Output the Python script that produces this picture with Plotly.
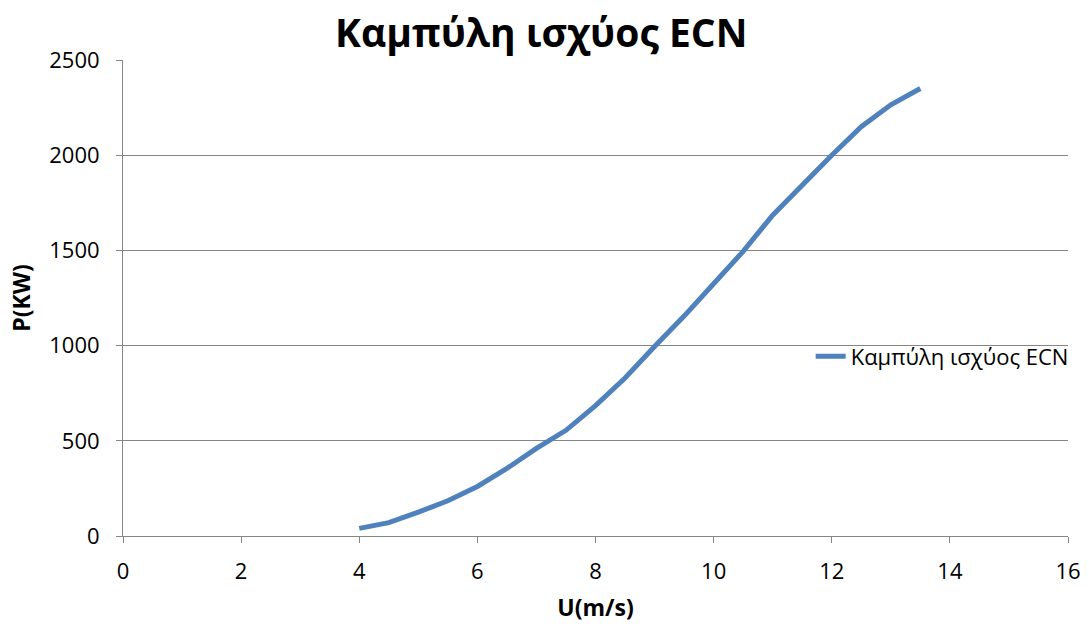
import plotly.graph_objects as go

U = [4, 4.5, 5, 5.5, 6, 6.5, 7, 7.5, 8, 8.5, 9, 9.5, 10, 10.5, 11, 11.5, 12, 12.5, 13, 13.5]
P = [40, 70, 125, 185, 260, 355, 460, 555, 685, 830, 995, 1155, 1325, 1495, 1685, 1845, 2000, 2150, 2265, 2350]
series_name = "Καμπύλη ισχύος ECN"
title_text = "Καμπύλη ισχύος ECN"
x_title = "U(m/s)"
y_title = "P(KW)"

font_family = "Open Sans, Carlito, Liberation Sans, sans-serif"

fig = go.Figure()
fig.add_trace(go.Scatter(x=U, y=P, mode="lines", name=series_name,
                         line=dict(color="#4F81BD", width=5, shape="linear")))

fig.update_layout(
    width=1089, height=626,
    margin=dict(l=123, r=21, t=60, b=90, autoexpand=False),
    paper_bgcolor="white", plot_bgcolor="white",
    font=dict(family=font_family, size=22, color="black"),
    title=dict(text="<b>" + title_text + "</b>", x=0.497, xanchor="center",
               y=0.947, yanchor="middle", font=dict(size=39, color="black")),
    showlegend=True,
    legend=dict(x=1.006, y=0.377, xanchor="right", yanchor="middle",
                bgcolor="rgba(0,0,0,0)", font=dict(size=22, color="black")),
    xaxis=dict(range=[0, 16], dtick=2, tick0=0, showgrid=False, zeroline=False,
               automargin=False,
               showline=True, linecolor="#868686", linewidth=1,
               ticks="outside", ticklen=6, tickcolor="#868686", ticklabelstandoff=10,
               title=dict(text="<b>" + x_title + "</b>", font=dict(size=23), standoff=15)),
    yaxis=dict(range=[0, 2500], dtick=500, tick0=0, showgrid=True, gridcolor="#868686",
               automargin=False,
               gridwidth=1, zeroline=False, showline=True, linecolor="#868686", linewidth=1,
               ticks="outside", ticklen=6, tickcolor="#868686", ticklabelstandoff=12,
               title=dict(text="<b>" + y_title + "</b>", font=dict(size=23), standoff=12)),
)

fig.write_html("out.html")
